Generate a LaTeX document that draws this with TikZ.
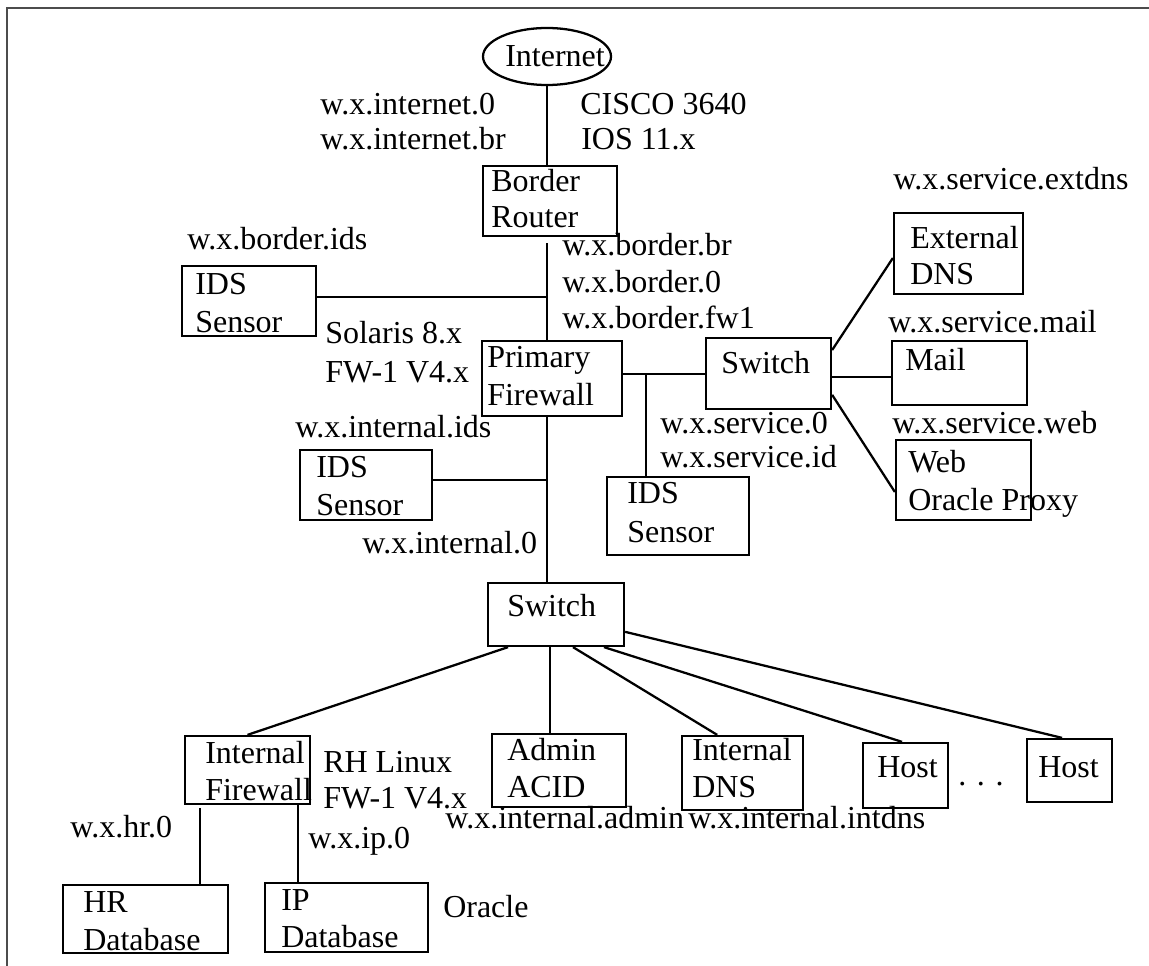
\documentclass[tikz,border=0pt]{standalone}
\usepackage{fontspec}
\setmainfont{Liberation Serif}
\usetikzlibrary{shapes.geometric,fit}
\tikzset{
  box/.style={draw, line width=1.7pt, rectangle, inner sep=0pt},
  lbl/.style={anchor=base west, inner sep=0pt, font=\fontsize{24}{27}\selectfont},
  wire/.style={line width=1.7pt},
  frame/.style={draw=black!70, line width=1pt}
}
\begin{document}
\begin{tikzpicture}[x=0.75pt,y=-0.75pt]
\useasboundingbox (0,0) rectangle (1149,966);
\draw[frame] (7,966) -- (7,8) -- (1149,8);

% ---- nodes (boxes) ----
\node[draw, ellipse, line width=1.7pt, minimum width=96pt, minimum height=42.75pt, inner sep=0pt] (inet) at (547,56.5) {};
\node[box, fit={(483,166) (617,236)}] (br) {};
\node[box, fit={(182,266) (316,336)}] (bids) {};
\node[box, fit={(482,341) (622,416)}] (pf) {};
\node[box, fit={(706,338) (831,409)}] (svcsw) {};
\node[box, fit={(607,477) (749,555)}] (sids) {};
\node[box, fit={(300,450) (432,520)}] (iids) {};
\node[box, fit={(894,213) (1023,294)}] (extdns) {};
\node[box, fit={(892,341) (1027,405)}] (mail) {};
\node[box, fit={(896,440) (1031,520)}] (web) {};
\node[box, fit={(488,583) (624,646)}] (isw) {};
\node[box, fit={(185,736) (310,804)}] (ifw) {};
\node[box, fit={(492,734) (626,807)}] (admin) {};
\node[box, fit={(682,736) (803,810)}] (idns) {};
\node[box, fit={(863,743) (948,808)}] (hostA) {};
\node[box, fit={(1027,739) (1112,802)}] (hostB) {};
\node[box, fit={(63,885) (228,953)}] (hrdb) {};
\node[box, fit={(265,883) (428,952)}] (ipdb) {};

% ---- junction coordinates ----
\coordinate (j1) at (547,297);
\coordinate (j2) at (646,374);
\coordinate (j3) at (547,480);
\coordinate (j4) at (860,377);
\coordinate (j5) at (550,700);
\coordinate (j6) at (200,850);
\coordinate (j7) at (298,850);

% ---- connectors ----
\draw[wire] (inet.south) -- (inet.south |- br.north);
\draw[wire] ([yshift=-4.5pt]br.south -| j1) -- (pf.north -| j1);
\draw[wire] (bids.east |- j1) -- (j1);
\draw[wire] (pf.east |- j2) -- (svcsw.west |- j2);
\draw[wire] (j2) -- (j2 |- sids.north);
\draw[wire] (pf.south -| j3) -- (isw.north -| j3);
\draw[wire] (iids.east |- j3) -- (j3);
\draw[wire] ([yshift=17.6pt]svcsw.east) -- ([yshift=-3.4pt]extdns.west);
\draw[wire] (svcsw.east |- j4) -- (mail.west |- j4);
\draw[wire] ([yshift=-16pt]svcsw.east) -- ([yshift=-9pt]web.west);
\draw[wire] ([xshift=-36pt]isw.south) -- (ifw.north);
\draw[wire] (isw.south -| j5) -- (admin.north -| j5);
\draw[wire] ([xshift=12.75pt]isw.south) -- ([xshift=-19pt]idns.north);
\draw[wire] ([xshift=36pt]isw.south) -- ([xshift=-2.6pt]hostA.north);
\draw[wire] ([yshift=-13pt]isw.east) -- ([xshift=-5.6pt]hostB.north);
\draw[wire] ([yshift=-2pt]ifw.south -| j6) -- (hrdb.north -| j6);
\draw[wire] (ifw.south -| j7) -- (ipdb.north -| j7);

% ---- texts ----
\node[lbl] (tinet) at (505,67) {Internet};
\node[lbl] (t1) at (320,115) {w.x.internet.0};
\node[lbl] (t2) at (320,150) {w.x.internet.br};
\node[lbl] (t3) at (580,115) {CISCO 3640};
\node[lbl] (t4) at (581,150) {IOS 11.x};
\node[lbl] (t5) at (491,192) {Border};
\node[lbl] (t6) at (491,228) {Router};
\node[lbl] (t7) at (187,250) {w.x.border.ids};
\node[lbl] (t8) at (562,256) {w.x.border.br};
\node[lbl] (t9) at (562,292) {w.x.border.0};
\node[lbl] (t10) at (562,328) {w.x.border.fw1};
\node[lbl] (t11) at (195,295) {IDS};
\node[lbl] (t12) at (195,332) {Sensor};
\node[lbl] (t13) at (325,343) {Solaris 8.x};
\node[lbl] (t14) at (325,382) {FW-1 V4.x};
\node[lbl] (t15) at (487,367) {Primary};
\node[lbl] (t16) at (487,405) {Firewall};
\node[lbl] (t17) at (721,373) {Switch};
\node[lbl] (t18) at (660,433) {w.x.service.0};
\node[lbl] (t19) at (660,467) {w.x.service.id};
\node[lbl] (t20) at (627,503) {IDS};
\node[lbl] (t21) at (627,542) {Sensor};
\node[lbl] (t22) at (295,437) {w.x.internal.ids};
\node[lbl] (t23) at (316,477) {IDS};
\node[lbl] (t24) at (316,515) {Sensor};
\node[lbl] (t25) at (362,553) {w.x.internal.0};
\node[lbl] (t26) at (893,190) {w.x.service.extdns};
\node[lbl] (t27) at (910,248) {External};
\node[lbl] (t28) at (910,285) {DNS};
\node[lbl] (t29) at (888,332) {w.x.service.mail};
\node[lbl] (t30) at (905,370) {Mail};
\node[lbl] (t31) at (892,433) {w.x.service.web};
\node[lbl] (t32) at (908,472) {Web};
\node[lbl] (t33) at (908,510) {Oracle Proxy};
\node[lbl] (t34) at (507,616) {Switch};
\node[lbl] (t35) at (205,763) {Internal};
\node[lbl] (t36) at (205,800) {Firewall};
\node[lbl] (t37) at (323,772) {RH Linux};
\node[lbl] (t38) at (323,808) {FW-1 V4.x};
\node[lbl] (t39) at (70,837) {w.x.hr.0};
\node[lbl] (t40) at (308,848) {w.x.ip.0};
\node[lbl] (t41) at (83,912) {HR};
\node[lbl] (t42) at (83,950) {Database};
\node[lbl] (t43) at (281,910) {IP};
\node[lbl] (t44) at (281,947) {Database};
\node[lbl] (t45) at (443,917) {Oracle};
\node[lbl] (t46) at (507,760) {Admin};
\node[lbl] (t47) at (507,797) {ACID};
\node[lbl] (t48) at (445,828) {w.x.internal.admin};
\node[lbl] (t49) at (692,760) {Internal};
\node[lbl] (t50) at (692,797) {DNS};
\node[lbl] (t51) at (688,828) {w.x.internal.intdns};
\node[lbl] (t52) at (877,777) {Host};
\node[lbl] (t53) at (1038,777) {Host};
\node[lbl] (t54) at (958,785) {.\,\,.\,\,.};
\end{tikzpicture}
\end{document}
